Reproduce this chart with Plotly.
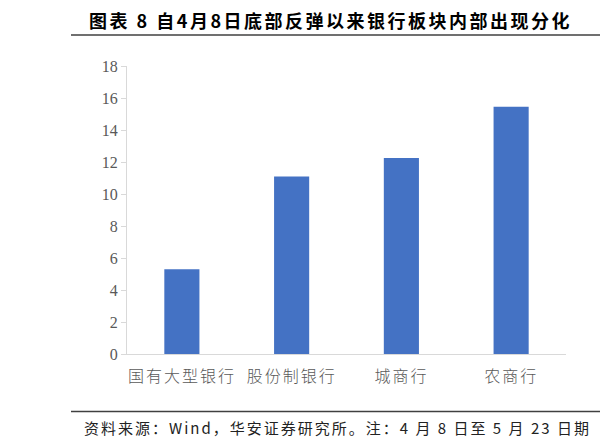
import plotly.graph_objects as go

categories = ['国有大型银行', '股份制银行', '城商行', '农商行']
values = [5.3, 11.1, 12.25, 15.45]

W, H = 600, 447
L, R, T, B = 127, 34, 66, 93
pw = W - L - R
ph = H - T - B


def px(x):
    return (x - L) / pw


def py(y):
    return (H - B - y) / ph


fig = go.Figure()
fig.add_trace(go.Bar(x=categories, y=values, marker=dict(color='#4472C4', line=dict(width=0)),
                     width=0.32, showlegend=False))

ticktext = ['<span style="letter-spacing:2px">' + c + '</span>' for c in categories]

fig.update_layout(
    width=W, height=H,
    margin=dict(l=L, r=R, t=T, b=B),
    plot_bgcolor='white', paper_bgcolor='white',
    xaxis=dict(showline=True, linecolor='#d9d9d9', linewidth=1, ticks='',
               tickvals=categories, ticktext=ticktext, ticklabelstandoff=8,
               tickfont=dict(family='Noto Sans CJK SC', size=16, color='#595959', weight=300)),
    yaxis=dict(range=[0, 18], dtick=2, showgrid=False, zeroline=False,
               showline=True, linecolor='#d9d9d9', linewidth=1,
               ticks='outside', ticklen=5, tickcolor='#d9d9d9',
               tickfont=dict(family='Liberation Serif', size=16, color='#595959')),
    shapes=[
        dict(type='line', xref='paper', yref='paper', x0=px(71), x1=px(600), y0=py(35), y1=py(35),
             line=dict(color='#404040', width=1.5)),
        dict(type='line', xref='paper', yref='paper', x0=px(71), x1=px(600), y0=py(411.5), y1=py(411.5),
             line=dict(color='#404040', width=1.5)),
    ],
    annotations=[
        dict(text='<span style="letter-spacing:2.5px"><b>图表 8 自4月8日底部反弹以来银行板块内部出现分化</b></span>',
             xref='paper', yref='paper',
             x=px(330), y=py(20), showarrow=False, xanchor='center', yanchor='middle',
             font=dict(family='Noto Sans CJK SC', size=18, color='black')),
        dict(text='<span style="letter-spacing:2px">资料来源：Wind，华安证券研究所。注：4 月 8 日至 5 月 23 日期</span>',
             xref='paper', yref='paper',
             x=px(82), y=py(427), showarrow=False, xanchor='left', yanchor='middle',
             font=dict(family='Noto Sans CJK SC', size=15, color='#222222')),
    ],
)

fig.write_html('out.html', config={'displayModeBar': False},
               post_script="document.body.style.margin='0px';")
